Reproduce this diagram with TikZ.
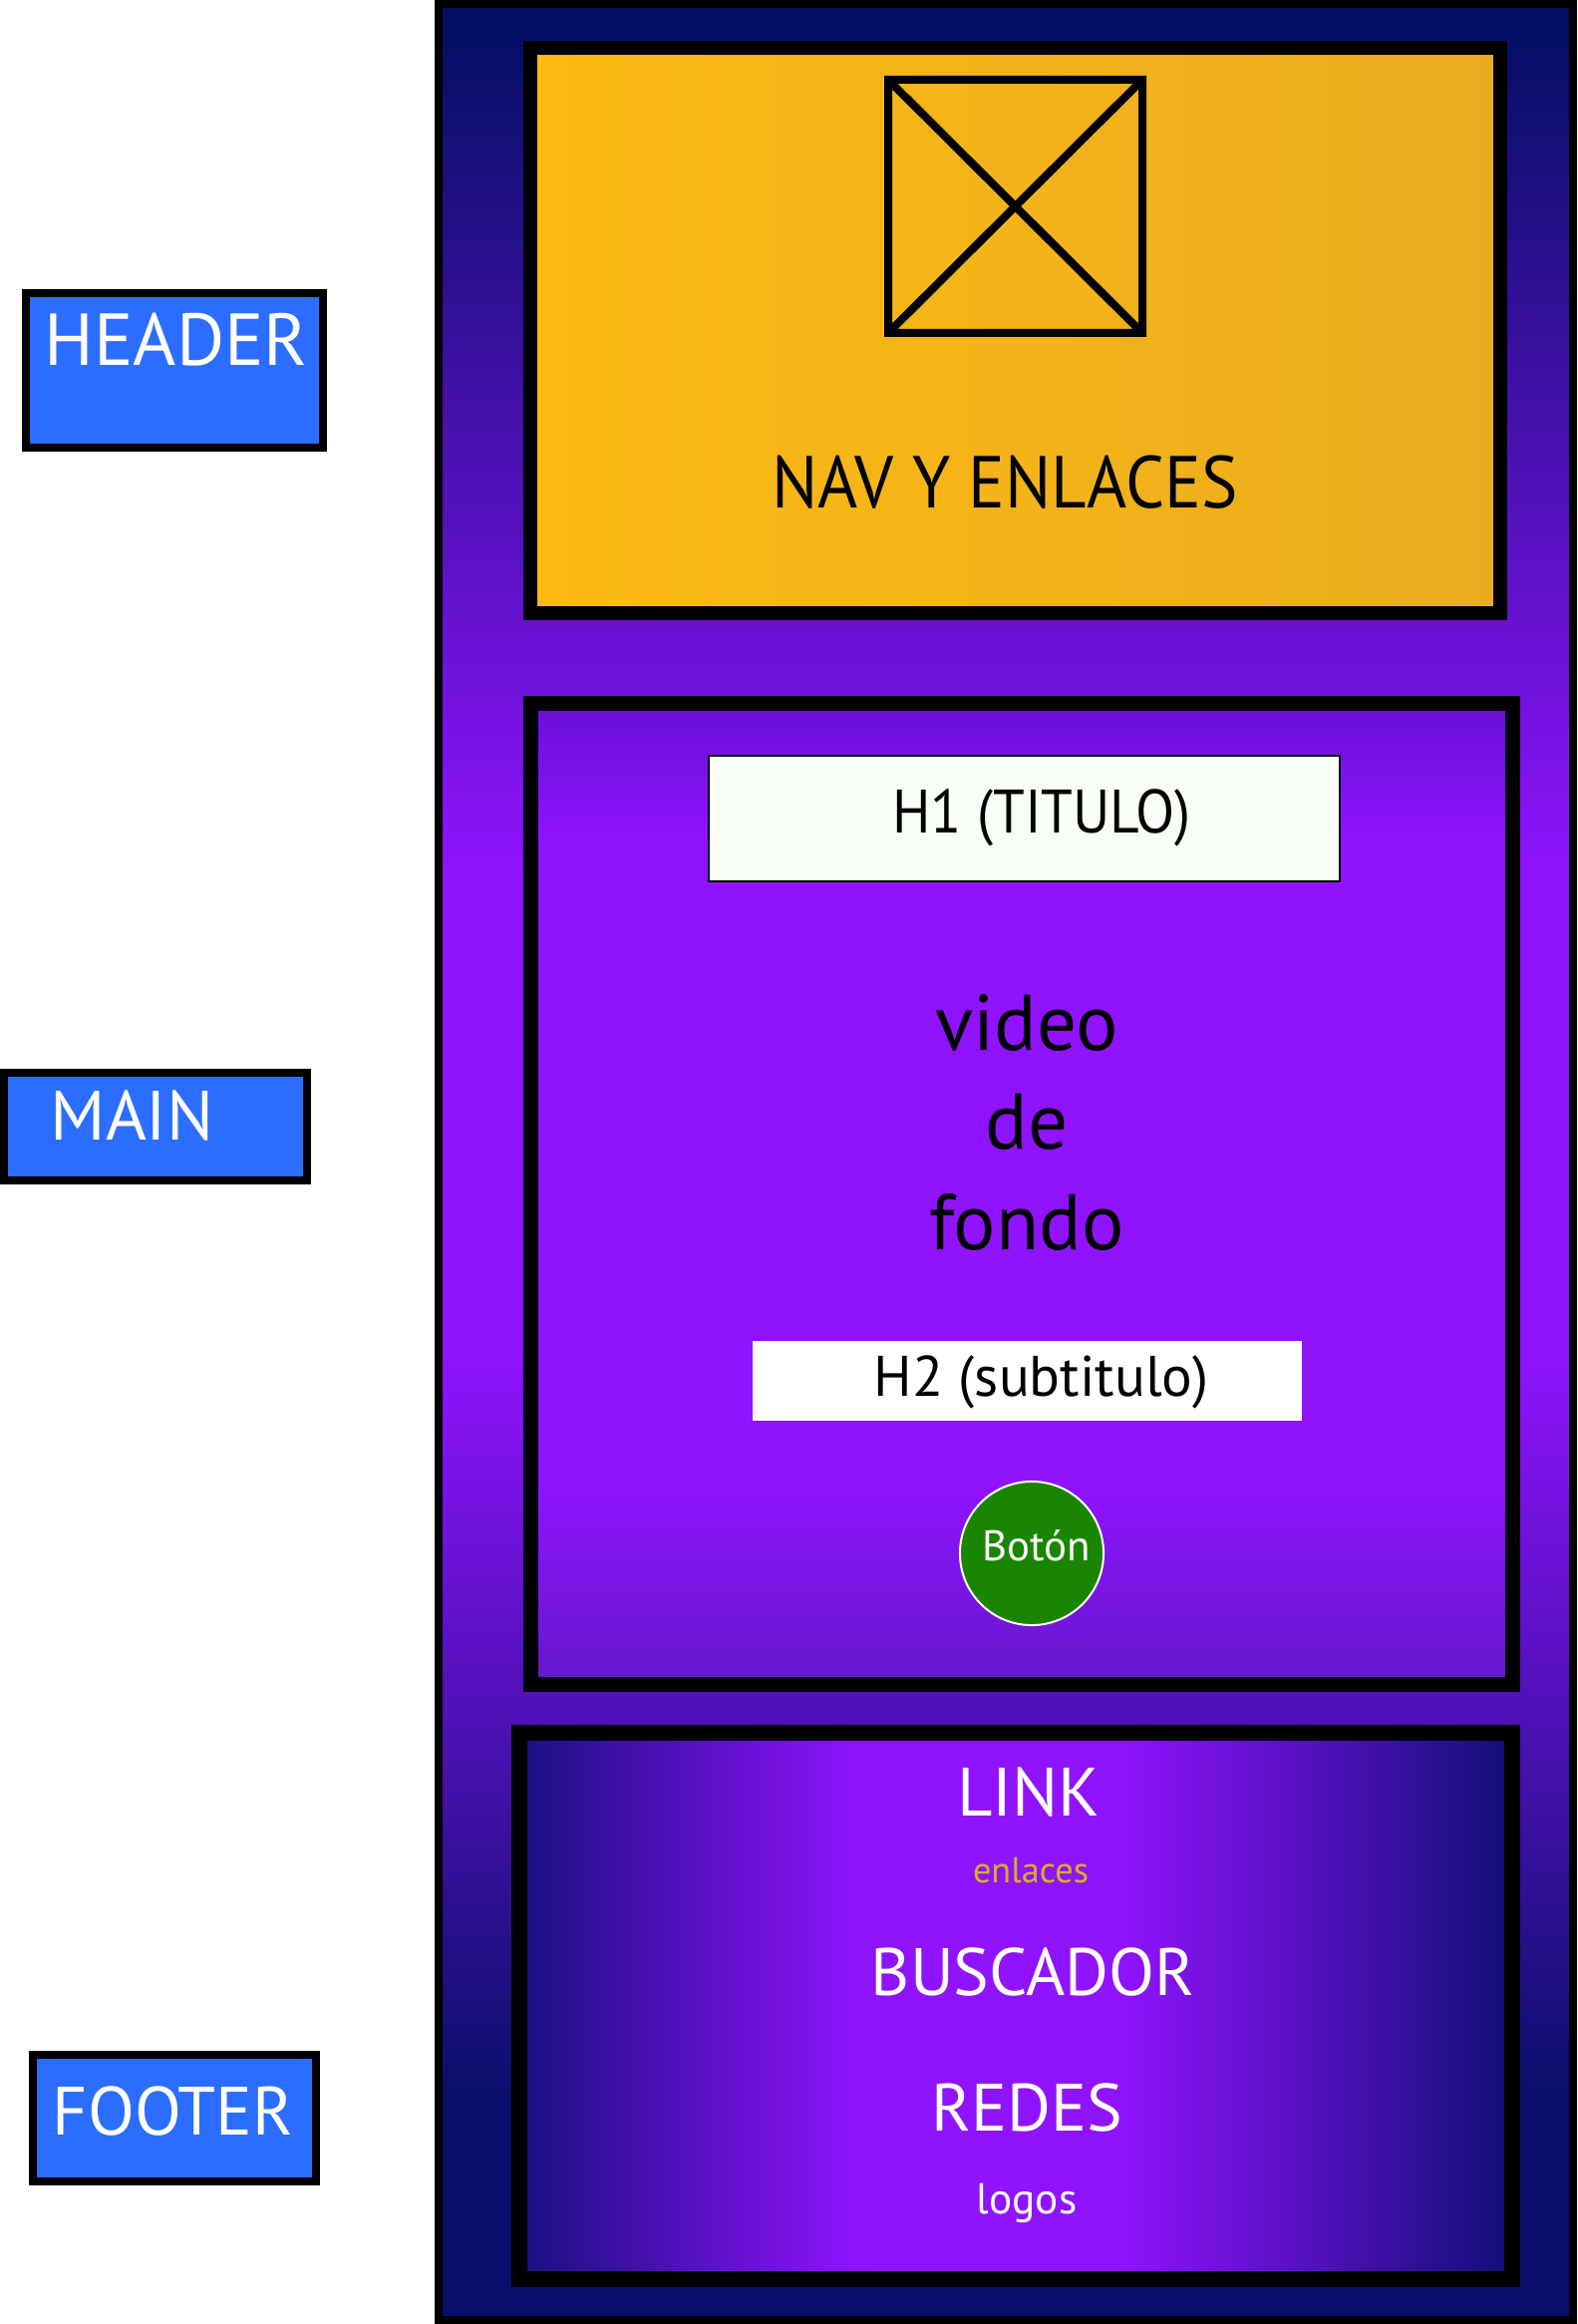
\documentclass[tikz,border=0pt]{standalone}
\usepackage{fontspec}
\setmainfont{PT Sans}
\newfontfamily\narrowsans[FakeStretch=0.93]{PT Sans}
\usepackage{xcolor}
\usepackage{tikz}
\usetikzlibrary{positioning,calc}
\definecolor{tagblue}{HTML}{2B6DFF}
\definecolor{navtop}{HTML}{000F60}
\definecolor{navbot}{HTML}{0B0F6C}
\definecolor{brightpurple}{HTML}{9013FE}
\definecolor{heroedge}{HTML}{6810D8}
\definecolor{herobot}{HTML}{6418CC}
\definecolor{footleft}{HTML}{1A1080}
\definecolor{footright}{HTML}{110F76}
\definecolor{navleft}{HTML}{FDBA13}
\definecolor{navright}{HTML}{EAAC1E}
\definecolor{h1fill}{HTML}{F8FDF5}
\definecolor{botongreen}{HTML}{1A8500}
\definecolor{linkgold}{HTML}{D4B020}
\newcommand\fsz[1]{\fontsize{#1pt}{#1pt}\selectfont}
\pgfdeclareverticalshading{pagebg}{100bp}{color(0bp)=(navbot); color(29.95bp)=(navbot);
  color(46bp)=(brightpurple); color(56.1bp)=(brightpurple); color(75bp)=(navtop); color(100bp)=(navtop)}
\pgfdeclareverticalshading{mainbg}{100bp}{color(0bp)=(herobot); color(25bp)=(herobot);
  color(35.4bp)=(brightpurple); color(67.9bp)=(brightpurple); color(75bp)=(heroedge); color(100bp)=(heroedge)}
\pgfdeclarehorizontalshading{footbg}{100bp}{color(0bp)=(footleft); color(25bp)=(footleft);
  color(42.2bp)=(brightpurple); color(55.2bp)=(brightpurple); color(75bp)=(footright); color(100bp)=(footright)}

\begin{document}
\begin{tikzpicture}[x=0.01cm, y=-0.01cm,
  tag/.style={draw=black, line width=0.08cm, fill=tagblue},
  tagtxt/.style={text=white, inner sep=0pt, anchor=base west},
  txt/.style={inner sep=0pt, anchor=base}]
\fill[white] (0,0) rectangle (1582,2331);
\useasboundingbox (0,0) rectangle (1582,2331);

% contenedor
\shadedraw[shading=pagebg, line width=0.085cm] (440,4) rectangle (1578,2327);

% header
\shadedraw[left color=navleft, right color=navright, line width=0.14cm] (532,48) rectangle (1505,615);
\draw[line width=0.08cm] (891,80) rectangle (1146,334) (891,80) -- (1146,334) (891,334) -- (1146,80);
\node[txt, font=\narrowsans\fsz{21}] (nav) at (1008,510) {NAV Y ENLACES};

% main
\shadedraw[shading=mainbg, line width=0.15cm] (532.5,705.5) rectangle (1517.5,1689.5);
\draw[fill=h1fill, line width=0.02cm] (711,758) rectangle (1344,884);
\node[txt, font=\narrowsans\fsz{17.5}] (h1) at (1045,835) {H1 (TITULO)};
\foreach \w/\y in {video/1053,de/1152,fondo/1253}
  \node[txt, font=\fsz{22.5}] (\w) at (1030,\y) {\w};
\fill[white] (755,1345) rectangle (1306,1425);
\node[txt, font=\fsz{16.3}] (h2) at (1044.5,1400) {H2 (subtitulo)};
\node[circle, fill=botongreen, draw=white, line width=0.02cm, minimum size=1.44cm, inner sep=0pt] (boton) at (1035,1558) {};
\node[txt, text=white, font=\fsz{12.2}] (botontxt) at (1040,1565) {Botón};

% footer
\shadedraw[shading=footbg, line width=0.16cm] (521,1738) rectangle (1517,2286);
\node[txt, text=white, font=\fsz{19.5}] (link) at (1032,1821) {LINK};
\node[txt, text=linkgold, font=\fsz{10.3}] (enlaces) at (1034,1888) {enlaces};
\node[txt, text=white, font=\fsz{19.1}] (buscador) at (1036,2001) {BUSCADOR};
\node[txt, text=white, font=\fsz{19.1}] (redes) at (1030,2137) {REDES};
\node[txt, text=white, font=\fsz{12.3}] (logos) at (1030,2220) {logos};

% etiquetas
\draw[tag] (26,294) rectangle (324,449);
\node[tagtxt, font=\fsz{21}] (headerlbl) at (44,367) {HEADER};
\draw[tag] (4,1076) rectangle (308,1184);
\node[tagtxt, font=\fsz{19.9}] (mainlbl) at (50,1143) {MAIN};
\draw[tag] (33,2061) rectangle (317,2188);
\node[tagtxt, font=\fsz{19.5}] (footerlbl) at (52,2141) {FOOTER};
\end{tikzpicture}
\end{document}
